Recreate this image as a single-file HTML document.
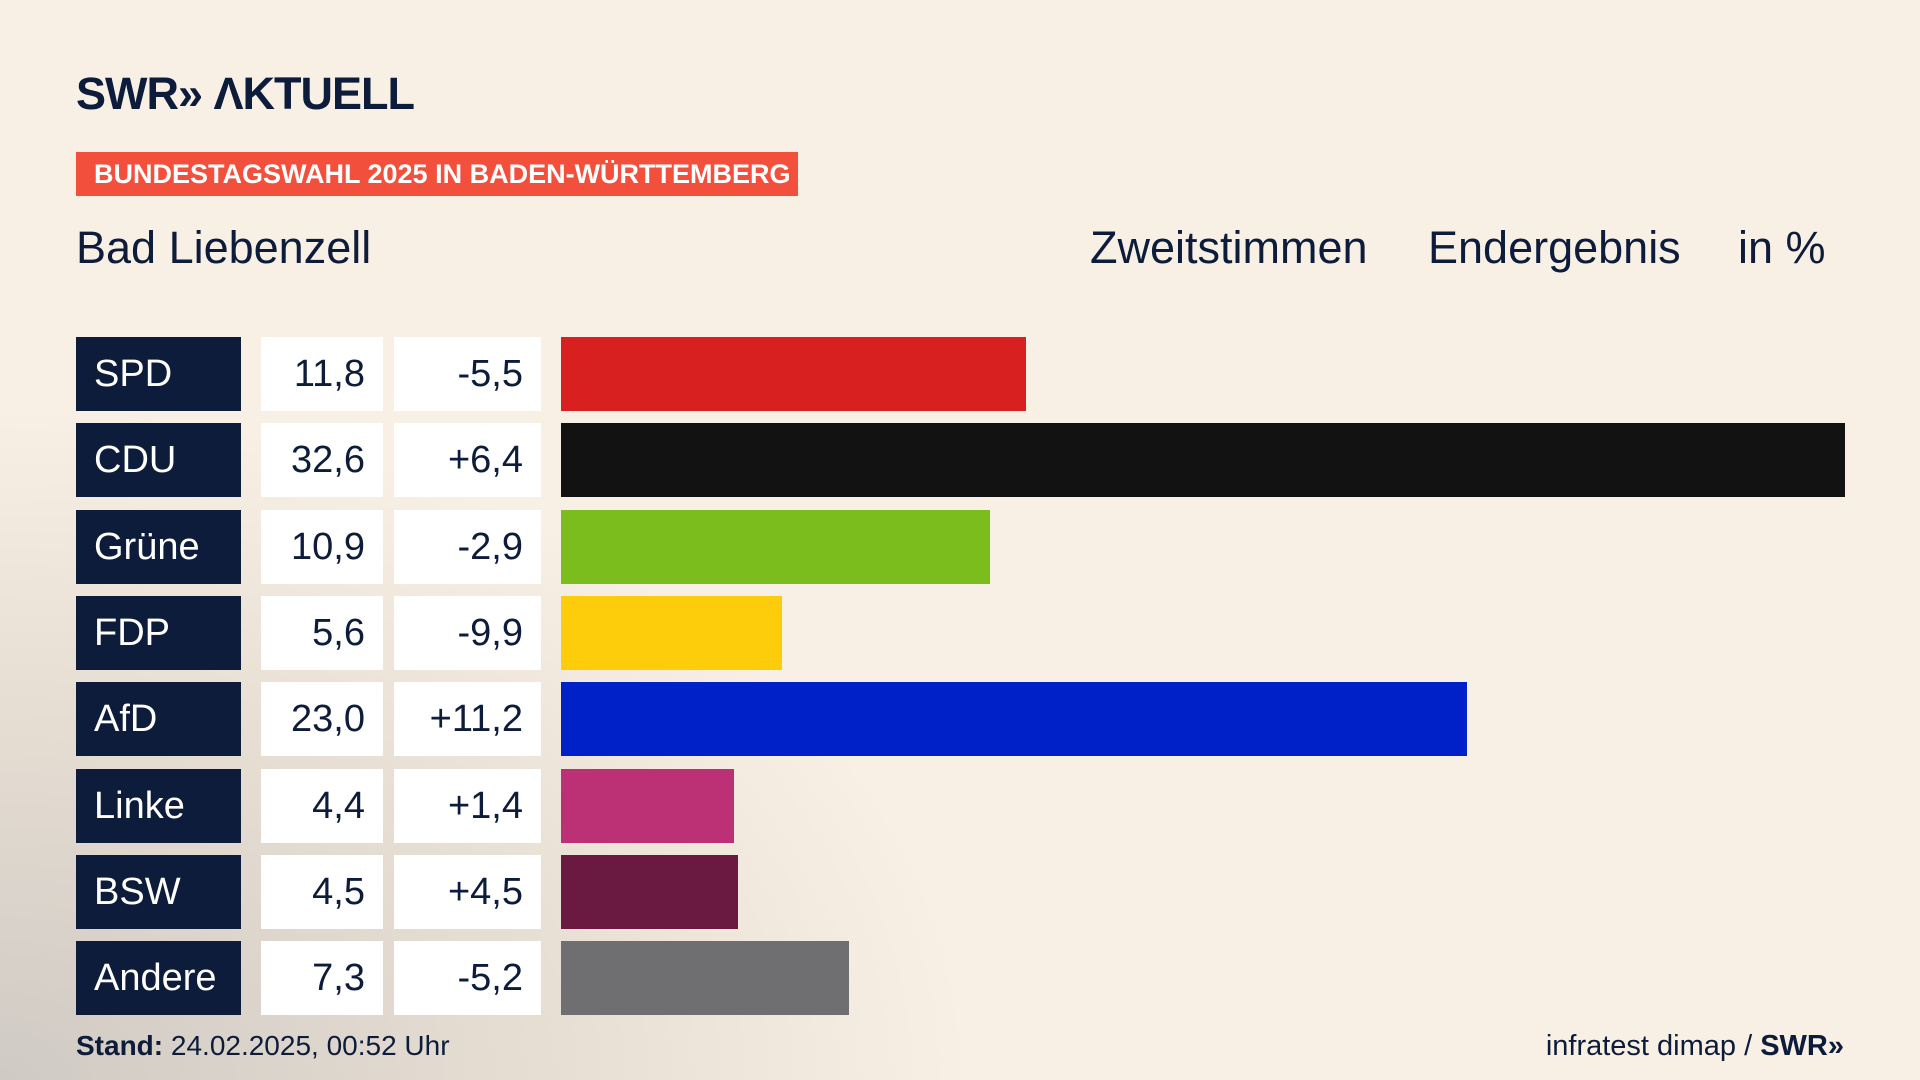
<!DOCTYPE html>
<html><head><meta charset="utf-8">
<style>
html,body{margin:0;padding:0}
body{width:1920px;height:1080px;overflow:hidden;position:relative;font-family:"Liberation Sans","DejaVu Sans",sans-serif;
background:radial-gradient(ellipse 1300px 900px at 0% 100%, #cfcac4 0%, #e6ddd2 40%, rgba(248,240,229,0) 75%), #f8f0e5;color:#0c1c3a}
.abs{position:absolute}
#logo{left:76px;top:68px;font-size:45px;font-weight:bold;letter-spacing:-1px;color:#0c1c3a}
#banner{left:76px;top:152px;width:722px;height:44px;background:#f2503c;color:#fff;font-weight:bold;font-size:27px;line-height:44px;box-sizing:border-box;padding-left:18px;letter-spacing:0px}
.hdr{top:222px;font-size:45px;color:#0c1c3a}
.name{left:76px;width:165px;height:74px;background:#0c1c3a;color:#fff;font-size:38px;line-height:74px;box-sizing:border-box;padding-left:18px}
.val{left:261px;width:122px;height:74px;background:#fff;font-size:38px;line-height:74px;text-align:right;box-sizing:border-box;padding-right:18px}
.dif{left:394px;width:147px;height:74px;background:#fff;font-size:38px;line-height:74px;text-align:right;box-sizing:border-box;padding-right:18px}
.bar{height:74px}
#foot{left:76px;top:1030px;font-size:28px}
#src{right:76px;top:1030px;font-size:29px}
</style></head><body>
<div id="logo" class="abs">SWR»&nbsp;ΛKTUELL</div>
<div id="banner" class="abs">BUNDESTAGSWAHL 2025 IN BADEN-WÜRTTEMBERG</div>
<div class="abs hdr" style="left:76px">Bad Liebenzell</div>
<div class="abs hdr" style="left:1090px">Zweitstimmen</div>
<div class="abs hdr" style="left:1428px">Endergebnis</div>
<div class="abs hdr" style="left:1738px">in %</div>
<div id="chart"></div>
<div id="foot" class="abs"><b>Stand:</b> 24.02.2025, 00:52 Uhr</div>
<div id="src" class="abs">infratest dimap / <b>SWR»</b></div>
<script>
const parties=["SPD","CDU","Grüne","FDP","AfD","Linke","BSW","Andere"];
const values=[11.8,32.6,10.9,5.6,23.0,4.4,4.5,7.3];
const diffs=[-5.5,6.4,-2.9,-9.9,11.2,1.4,4.5,-5.2];
const colors=["#d82020","#121212","#7abd1c","#fdcc0a","#0020c8","#bc3175","#6a1a40","#6f6f71"];
const fmt=v=>v.toFixed(1).replace('.',',');
const x0=561, pxPer=(1845-561)/32.6, y0=337, pitch=86.3;
const xs=v=>v*pxPer, ys=i=>y0+i*pitch;
const c=document.getElementById('chart');
parties.forEach((p,i)=>{
  const y=ys(i);
  const n=document.createElement('div');n.className='abs name';n.style.top=y+'px';n.textContent=p;
  
  
  const v=document.createElement('div');v.className='abs val';v.style.top=y+'px';v.textContent=fmt(values[i]);
  
  
  const d=document.createElement('div');d.className='abs dif';d.style.top=y+'px';d.textContent=(diffs[i]>0?'+':'')+fmt(diffs[i]);
  
  
  const b=document.createElement('div');b.className='abs bar';b.style.top=y+'px';b.style.left=x0+'px';b.style.width=xs(values[i])+'px';b.style.background=colors[i];
  
  
  c.append(n,v,d,b);
});
</script>
</body></html>
